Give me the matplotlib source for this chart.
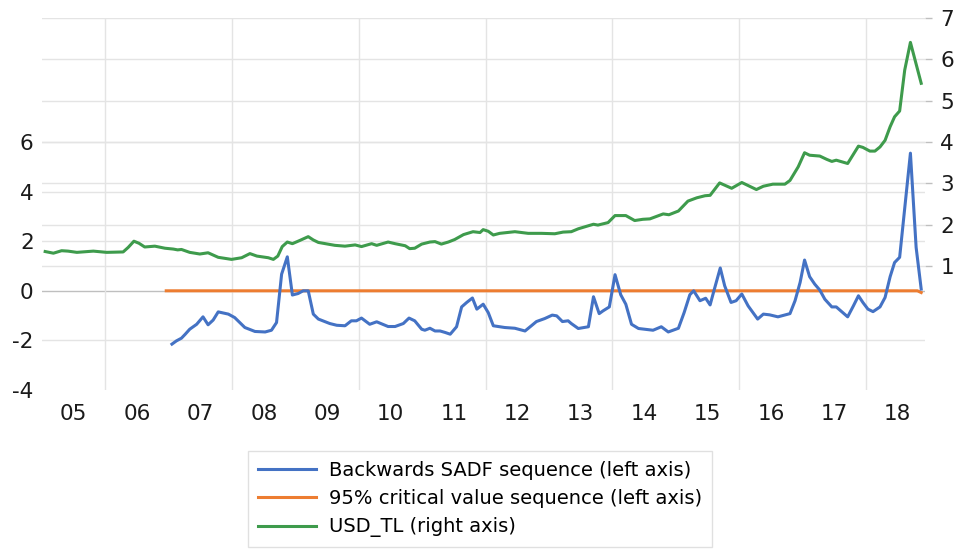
import matplotlib.pyplot as plt
from matplotlib.transforms import blended_transform_factory

plt.rcParams['font.family'] = ['DejaVu Sans']
plt.rcParams['axes.unicode_minus'] = False

# USD/TL (right axis), decimal-year positions
usd_dates = [2005.05, 2005.18, 2005.31, 2005.41, 2005.55, 2005.81, 2006.02, 2006.28,
             2006.36, 2006.45, 2006.53, 2006.62, 2006.78, 2006.94, 2007.07, 2007.14,
             2007.20, 2007.33, 2007.49, 2007.62, 2007.78, 2007.99, 2008.15, 2008.28,
             2008.39, 2008.57, 2008.65, 2008.72, 2008.79, 2008.87, 2008.95, 2009.07,
             2009.20, 2009.28, 2009.36, 2009.62, 2009.78, 2009.94, 2010.04, 2010.20,
             2010.28, 2010.46, 2010.57, 2010.73, 2010.80, 2010.88, 2010.99, 2011.12,
             2011.20, 2011.30, 2011.41, 2011.51, 2011.65, 2011.80, 2011.91, 2011.96,
             2012.04, 2012.12, 2012.22, 2012.46, 2012.67, 2012.88, 2013.09, 2013.22,
             2013.35, 2013.46, 2013.59, 2013.70, 2013.77, 2013.93, 2014.04, 2014.21,
             2014.35, 2014.48, 2014.59, 2014.80, 2014.89, 2015.04, 2015.19, 2015.33,
             2015.46, 2015.54, 2015.69, 2015.88, 2016.04, 2016.27, 2016.38, 2016.53,
             2016.72, 2016.80, 2016.93, 2017.03, 2017.11, 2017.27, 2017.38, 2017.46,
             2017.53, 2017.71, 2017.88, 2017.95, 2018.06, 2018.14, 2018.22, 2018.30,
             2018.38, 2018.45, 2018.53, 2018.61, 2018.70, 2018.87]
usd_tl = [1.35, 1.31, 1.37, 1.36, 1.33, 1.36, 1.33, 1.34,
          1.45, 1.60, 1.55, 1.46, 1.48, 1.43, 1.41, 1.39,
          1.40, 1.33, 1.29, 1.32, 1.21, 1.16, 1.20, 1.30,
          1.24, 1.20, 1.16, 1.24, 1.47, 1.58, 1.54, 1.62,
          1.71, 1.63, 1.57, 1.50, 1.48, 1.51, 1.47, 1.54,
          1.50, 1.58, 1.54, 1.49, 1.42, 1.43, 1.53, 1.58,
          1.59, 1.53, 1.58, 1.64, 1.76, 1.83, 1.81, 1.88,
          1.84, 1.75, 1.79, 1.83, 1.79, 1.79, 1.78, 1.82,
          1.83, 1.90, 1.96, 2.01, 1.99, 2.05, 2.22, 2.22,
          2.10, 2.13, 2.14, 2.26, 2.24, 2.33, 2.57, 2.65,
          2.70, 2.71, 3.01, 2.88, 3.02, 2.85, 2.93, 2.98,
          2.98, 3.07, 3.40, 3.74, 3.68, 3.66, 3.58, 3.53,
          3.56, 3.48, 3.90, 3.87, 3.78, 3.78, 3.88, 4.04,
          4.37, 4.61, 4.75, 5.74, 6.41, 5.42]

# Backwards SADF sequence (left axis)
sadf_dates = [2007.05, 2007.12, 2007.20, 2007.26, 2007.33, 2007.44, 2007.54, 2007.62,
              2007.70, 2007.78, 2007.94, 2008.04, 2008.20, 2008.36, 2008.52, 2008.62,
              2008.70, 2008.78, 2008.87, 2008.95, 2009.04, 2009.12, 2009.20, 2009.28,
              2009.36, 2009.54, 2009.65, 2009.78, 2009.88, 2009.96, 2010.04, 2010.17,
              2010.28, 2010.46, 2010.57, 2010.70, 2010.79, 2010.88, 2010.99, 2011.04,
              2011.12, 2011.20, 2011.28, 2011.36, 2011.44, 2011.54, 2011.62, 2011.70,
              2011.79, 2011.86, 2011.96, 2012.04, 2012.12, 2012.30, 2012.46, 2012.62,
              2012.72, 2012.80, 2012.93, 2013.05, 2013.12, 2013.21, 2013.30, 2013.35,
              2013.46, 2013.62, 2013.70, 2013.79, 2013.85, 2013.95, 2014.04, 2014.13,
              2014.21, 2014.30, 2014.41, 2014.64, 2014.77, 2014.88, 2015.04, 2015.13,
              2015.22, 2015.28, 2015.38, 2015.47, 2015.54, 2015.60, 2015.70, 2015.77,
              2015.87, 2015.95, 2016.04, 2016.14, 2016.29, 2016.38, 2016.48, 2016.61,
              2016.80, 2016.88, 2016.96, 2017.03, 2017.11, 2017.19, 2017.27, 2017.35,
              2017.46, 2017.53, 2017.71, 2017.80, 2017.88, 2017.95, 2018.03, 2018.11,
              2018.22, 2018.30, 2018.38, 2018.45, 2018.53, 2018.70, 2018.79, 2018.87]
sadf = [-2.15, -2.02, -1.91, -1.75, -1.55, -1.35, -1.05, -1.37,
        -1.18, -0.85, -0.94, -1.08, -1.48, -1.64, -1.66, -1.59,
        -1.28, 0.67, 1.37, -0.17, -0.11, 0.00, 0.00, -0.94,
        -1.14, -1.32, -1.39, -1.41, -1.21, -1.21, -1.10, -1.35,
        -1.25, -1.44, -1.44, -1.32, -1.10, -1.21, -1.55, -1.59,
        -1.51, -1.62, -1.62, -1.68, -1.75, -1.45, -0.65, -0.47,
        -0.29, -0.74, -0.54, -0.88, -1.41, -1.48, -1.51, -1.62,
        -1.41, -1.24, -1.12, -0.98, -1.01, -1.24, -1.21, -1.32,
        -1.52, -1.45, -0.24, -0.92, -0.81, -0.65, 0.65, -0.16,
        -0.54, -1.35, -1.52, -1.59, -1.45, -1.66, -1.51, -0.88,
        -0.16, 0.00, -0.40, -0.30, -0.57, 0.00, 0.92, 0.20,
        -0.47, -0.40, -0.13, -0.61, -1.14, -0.94, -0.97, -1.05,
        -0.92, -0.40, 0.34, 1.24, 0.57, 0.27, 0.03, -0.34,
        -0.65, -0.65, -1.05, -0.61, -0.20, -0.47, -0.74, -0.84,
        -0.65, -0.27, 0.57, 1.14, 1.35, 5.55, 1.75, 0.07]

# 95% critical value sequence (left axis)
cv_dates = [2006.96, 2018.81, 2018.87]
cv = [0.0, 0.0, -0.07]

year_ticks = [2005.5 + i for i in range(14)]
year_labels = ['05', '06', '07', '08', '09', '10', '11', '12', '13', '14', '15', '16', '17', '18']
left_ticks = [-4, -2, 0, 2, 4, 6]
right_ticks = [1, 2, 3, 4, 5, 6, 7]
grid_years = [2006, 2008, 2010, 2012, 2014, 2016, 2018]

BLUE = '#4472C4'
ORANGE = '#ED7D31'
GREEN = '#3E9B4C'
GRID = '#E4E4E4'

fig = plt.figure(figsize=(9.55, 5.5), dpi=100)
ax = fig.add_axes([42 / 955, 1 - 390 / 550, (925 - 42) / 955, (390 - 18) / 550])
ax2 = ax.twinx()
ax.set_zorder(ax2.get_zorder() + 1)
ax.patch.set_visible(False)

# all gridlines live on the lower (right) axes so no series is crossed by them
left_tr = blended_transform_factory(ax2.transAxes, ax.transData)
for v in left_ticks[1:]:
    ax2.plot([0, 1], [v, v], transform=left_tr, color='#BFBFBF' if v == 0 else GRID,
             lw=1, zorder=0.5)
for v in right_ticks:
    ax2.axhline(v, color=GRID, lw=1, zorder=0.5)
for yv in grid_years:
    ax2.axvline(yv, color=GRID, lw=1, zorder=0.5)

l_green, = ax2.plot(usd_dates, usd_tl, color=GREEN, lw=2.2, label='USD_TL (right axis)')
l_orange, = ax.plot(cv_dates, cv, color=ORANGE, lw=2.2,
                    label='95% critical value sequence (left axis)')
l_blue, = ax.plot(sadf_dates, sadf, color=BLUE, lw=2.2,
                  label='Backwards SADF sequence (left axis)')

ax.set_xlim(2005, 2018.93)
ax.set_ylim(-4, 11)
ax2.set_ylim(-2, 7)

ax.set_xticks(year_ticks)
ax.set_xticklabels(year_labels)
ax.set_yticks(left_ticks)
ax2.set_yticks(right_ticks)

for a in (ax, ax2):
    for s in a.spines.values():
        s.set_visible(False)

ax.tick_params(axis='x', length=0, labelsize=15.5, pad=10, colors='#1A1A1A')
ax.tick_params(axis='y', length=0, labelsize=15.5, pad=6, colors='#1A1A1A')
ax2.tick_params(axis='y', length=5, width=1, color='#BFBFBF', labelsize=15.5, pad=6,
                labelcolor='#1A1A1A')

fig.legend([l_blue, l_orange, l_green],
           [l_blue.get_label(), l_orange.get_label(), l_green.get_label()],
           loc='upper left', bbox_to_anchor=(248 / 955, 1 - 451 / 550),
           frameon=True, fancybox=False, edgecolor='#D9D9D9', fontsize=14,
           handlelength=3.0, handletextpad=0.65, labelspacing=0.48, borderpad=0.5,
           borderaxespad=0)

fig.savefig('out.png', dpi=100, facecolor='white')
